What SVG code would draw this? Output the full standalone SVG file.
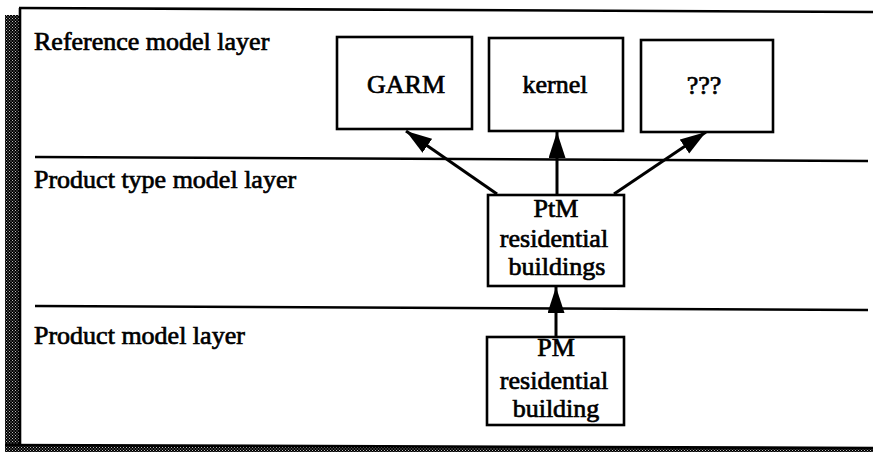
<svg xmlns="http://www.w3.org/2000/svg" width="873" height="452" viewBox="0 0 873 452">
  <defs>
    <pattern id="dots" width="3" height="3" patternUnits="userSpaceOnUse">
      <rect width="3" height="3" fill="#000"/>
      <rect x="0" y="0" width="1" height="1" fill="#bbb"/>
      <rect x="1.5" y="1.5" width="1" height="1" fill="#bbb"/>
    </pattern>
    <marker id="head" markerUnits="userSpaceOnUse" markerWidth="28" markerHeight="18" refX="26" refY="8.5" orient="auto">
      <path d="M0,0 L26,8.5 L0,17 Z" fill="#000"/>
    </marker>
    <style>
      .box { fill: #fff; stroke: #000; stroke-width: 2.6; }
      .rule { stroke: #000; stroke-width: 2.6; fill: none; }
      .conn { stroke: #000; stroke-width: 3; fill: none; marker-end: url(#head); }
      .lbl { font-size: 26px; fill: #000; stroke: #000; stroke-width: 0.7; }
      .mid { text-anchor: middle; }
    </style>
  </defs>

  <rect width="873" height="452" fill="#fff"/>

  <!-- frame with shadow -->
  <g id="frame">
    <rect x="5" y="15" width="15" height="437" fill="url(#dots)"/>
    <polygon points="5,445 873,448 873,452 5,452" fill="url(#dots)"/>
    <line class="rule" x1="5" y1="445" x2="873" y2="448"/>
    <line class="rule" x1="20" y1="8" x2="20" y2="446"/>
    <line class="rule" x1="19" y1="8" x2="873" y2="12"/>
  </g>

  <!-- layer separators -->
  <g id="layers" font-family="'Liberation Serif', 'Times New Roman', 'DejaVu Serif', serif">
    <line class="rule" x1="35" y1="157" x2="868" y2="161"/>
    <line class="rule" x1="35" y1="306" x2="868" y2="310"/>
    <text class="lbl" x="34" y="50">Reference model layer</text>
    <text class="lbl" x="34" y="188">Product type model layer</text>
    <text class="lbl" x="34" y="344">Product model layer</text>
  </g>

  <!-- connectors -->
  <g id="connectors">
    <line class="conn" x1="497" y1="194" x2="406" y2="131"/>
    <line class="conn" x1="557" y1="195" x2="557" y2="132"/>
    <line class="conn" x1="614" y1="194" x2="706" y2="132"/>
    <line class="conn" x1="556" y1="337" x2="556" y2="287"/>
  </g>

  <g id="nodes" font-family="'Liberation Serif', 'Times New Roman', 'DejaVu Serif', serif">
    <!-- reference models -->
    <g id="garm">
      <rect class="box" x="337" y="37" width="135" height="92"/>
      <text class="lbl mid" x="406" y="93">GARM</text>
    </g>
    <g id="kernel">
      <rect class="box" x="489" y="38" width="134" height="93"/>
      <text class="lbl mid" x="555" y="93">kernel</text>
    </g>
    <g id="unknown">
      <rect class="box" x="641" y="40" width="132" height="92"/>
      <text class="lbl mid" x="704" y="94">???</text>
    </g>

    <!-- product type model -->
    <g id="ptm">
      <rect class="box" x="488" y="195" width="136" height="91"/>
      <text class="lbl mid" x="556" y="217">PtM</text>
      <text class="lbl mid" x="554" y="247">residential</text>
      <text class="lbl mid" x="557" y="275">buildings</text>
    </g>

    <!-- product model -->
    <g id="pm">
      <rect class="box" x="487" y="337" width="137" height="88"/>
      <text class="lbl mid" x="556" y="356">PM</text>
      <text class="lbl mid" x="554" y="389">residential</text>
      <text class="lbl mid" x="556" y="417">building</text>
    </g>
  </g>
</svg>
